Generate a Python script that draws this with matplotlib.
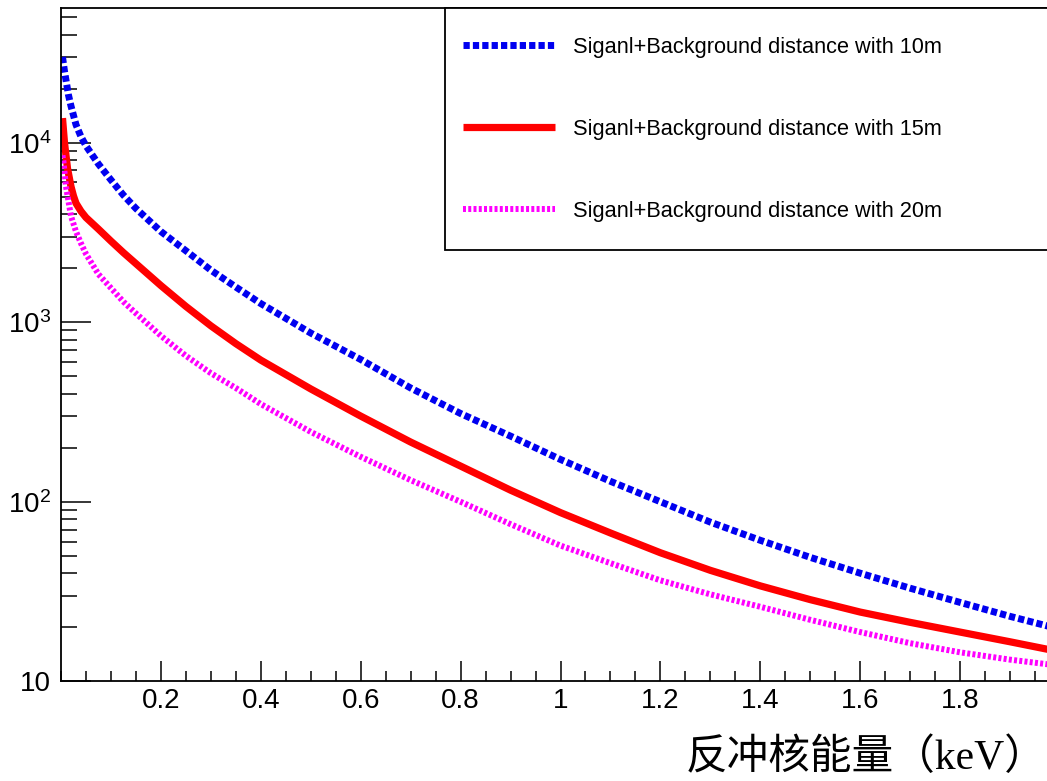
import matplotlib
matplotlib.use("Agg")
import matplotlib.pyplot as plt
from matplotlib import font_manager as fm
from matplotlib.ticker import FixedLocator, MultipleLocator, LogLocator, NullFormatter
from matplotlib.patches import Rectangle

plt.rcParams['mathtext.fontset'] = 'custom'
plt.rcParams['mathtext.rm'] = 'Liberation Sans'
plt.rcParams['font.family'] = ['Liberation Sans', 'DejaVu Sans']

# ---------------- data ----------------
x_10m = [0.003, 0.007, 0.015, 0.02, 0.03, 0.04, 0.05, 0.075, 0.1, 0.125, 0.15, 0.2, 0.25,
         0.3, 0.35, 0.4, 0.5, 0.6, 0.7, 0.8, 0.9, 1.0, 1.1, 1.2, 1.3, 1.4, 1.5, 1.6,
         1.7, 1.8, 1.9, 2.0]
y_10m = [3.0e4, 2.5e4, 1.84e4, 1.6e4, 1.26e4, 1.08e4, 9.6e3, 7.6e3, 6.2e3, 5.1e3, 4.3e3,
         3.2e3, 2.5e3, 1.95e3, 1.57e3, 1.27e3, 870, 620, 430, 310, 232, 172, 130, 100,
         77, 61, 49, 40, 33, 27.5, 23, 19.5]

x_15m = [0.003, 0.007, 0.013, 0.02, 0.025, 0.03, 0.04, 0.05, 0.075, 0.1, 0.125, 0.15, 0.2,
         0.25, 0.3, 0.35, 0.4, 0.5, 0.6, 0.7, 0.8, 0.9, 1.0, 1.1, 1.2, 1.3, 1.4, 1.5,
         1.6, 1.7, 1.8, 1.9, 2.0]
y_15m = [1.37e4, 1.0e4, 7.2e3, 5.7e3, 5.05e3, 4.6e3, 4.15e3, 3.83e3, 3.3e3, 2.83e3, 2.44e3,
         2.12e3, 1.6e3, 1.225e3, 955, 760, 615, 425, 300, 215, 158, 116, 87, 67, 52,
         41.5, 34, 28.5, 24.3, 21.3, 18.8, 16.6, 14.6]

x_20m = [0.003, 0.005, 0.01, 0.02, 0.03, 0.04, 0.05, 0.075, 0.1, 0.125, 0.15, 0.2, 0.25,
         0.3, 0.35, 0.4, 0.5, 0.6, 0.7, 0.8, 0.9, 1.0, 1.1, 1.2, 1.3, 1.4, 1.5, 1.6,
         1.7, 1.8, 1.9, 2.0]
y_20m = [8.5e3, 7.8e3, 5.7e3, 3.9e3, 3.2e3, 2.75e3, 2.4e3, 1.85e3, 1.55e3, 1.3e3, 1.12e3,
         840, 650, 520, 430, 350, 245, 178, 132, 100, 75, 57, 45.5, 36.5, 30.5, 26, 22,
         18.8, 16.3, 14.5, 13.2, 12.2]

labels = ["Siganl+Background distance with 10m",
          "Siganl+Background distance with 15m",
          "Siganl+Background distance with 20m"]
xtick_vals = [0.2, 0.4, 0.6, 0.8, 1.0, 1.2, 1.4, 1.6, 1.8]
xtick_labels = ["0.2", "0.4", "0.6", "0.8", "1", "1.2", "1.4", "1.6", "1.8"]
ytick_vals = [10, 100, 1000, 10000]
ytick_labels = ["10", r"$\mathregular{10^{2}}$", r"$\mathregular{10^{3}}$", r"$\mathregular{10^{4}}$"]
xlabel = "反冲核能量（keV）"

# ---------------- figure ----------------
W, H = 1047, 781
fig = plt.figure(figsize=(W / 100, H / 100), dpi=100)
fig.patch.set_facecolor('white')

left_px, right_px, top_px, bot_px = 61, 1060, 7.5, 681.3
ax = fig.add_axes([left_px / W, 1 - bot_px / H, (right_px - left_px) / W, (bot_px - top_px) / H])

l1, = ax.plot(x_10m, y_10m, color='#0000f0', lw=5, linestyle=(0, (0.9, 0.45)),
              dash_capstyle='butt', solid_joinstyle='round')
l2, = ax.plot(x_15m, y_15m, color='#ff0000', lw=5.2, solid_capstyle='butt')
l3, = ax.plot(x_20m, y_20m, color='#ff00ff', lw=4.3, linestyle=(0, (0.5, 0.38)),
              dash_capstyle='butt')

ax.set_yscale('log')
ax.set_xlim(0, 2)
ax.set_ylim(10, 5.66e4)

ax.xaxis.set_major_locator(FixedLocator(xtick_vals))
ax.set_xticklabels(xtick_labels)
ax.xaxis.set_minor_locator(MultipleLocator(0.05))
ax.yaxis.set_major_locator(FixedLocator(ytick_vals))
ax.set_yticklabels(ytick_labels)
ax.yaxis.set_minor_locator(LogLocator(base=10, subs=range(2, 10)))
ax.yaxis.set_minor_formatter(NullFormatter())

ax.tick_params(axis='x', which='major', direction='in', length=14.4, width=1.1,
               labelsize=20, pad=5, top=False)
ax.tick_params(axis='x', which='minor', direction='in', length=7.2, width=1.1, top=False)
ax.tick_params(axis='y', which='major', direction='in', length=21.6, width=1.1,
               labelsize=20, pad=7, right=False)
ax.tick_params(axis='y', which='minor', direction='in', length=11.5, width=1.1, right=False)
for s in ax.spines.values():
    s.set_linewidth(1.3)

# legend box
box = Rectangle((445 / W, 1 - 250 / H), (1070 - 445) / W, (250 - 7.5) / H,
                transform=fig.transFigure, facecolor='white', edgecolor='black',
                lw=1.3, zorder=5, clip_on=False)
fig.add_artist(box)

avail = {f.name for f in fm.fontManager.ttflist}
if 'Liberation Sans Narrow' in avail:
    leg_prop = {'family': 'Liberation Sans Narrow', 'size': 19}
    fpx = 19 * 100 / 72
else:
    leg_prop = {'family': 'Liberation Sans', 'size': 15.7}
    fpx = 15.7 * 100 / 72
text_h = 0.92 * fpx
leg = fig.legend([l1, l2, l3], labels, loc='upper left',
                 bbox_to_anchor=(463 / W, 1 - (47 - text_h / 2) / H), frameon=False,
                 prop=leg_prop,
                 handlelength=92 / fpx, handletextpad=18 / fpx,
                 labelspacing=(81 - text_h) / fpx,
                 borderpad=0, borderaxespad=0)
leg.set_zorder(6)

fig.text(1047 / W, 1 - 758 / H, xlabel, ha='right', va='center', fontsize=30,
         family=['Liberation Serif', 'Noto Sans CJK SC', 'DejaVu Sans'])

fig.savefig('out.png', dpi=100, facecolor='white')
